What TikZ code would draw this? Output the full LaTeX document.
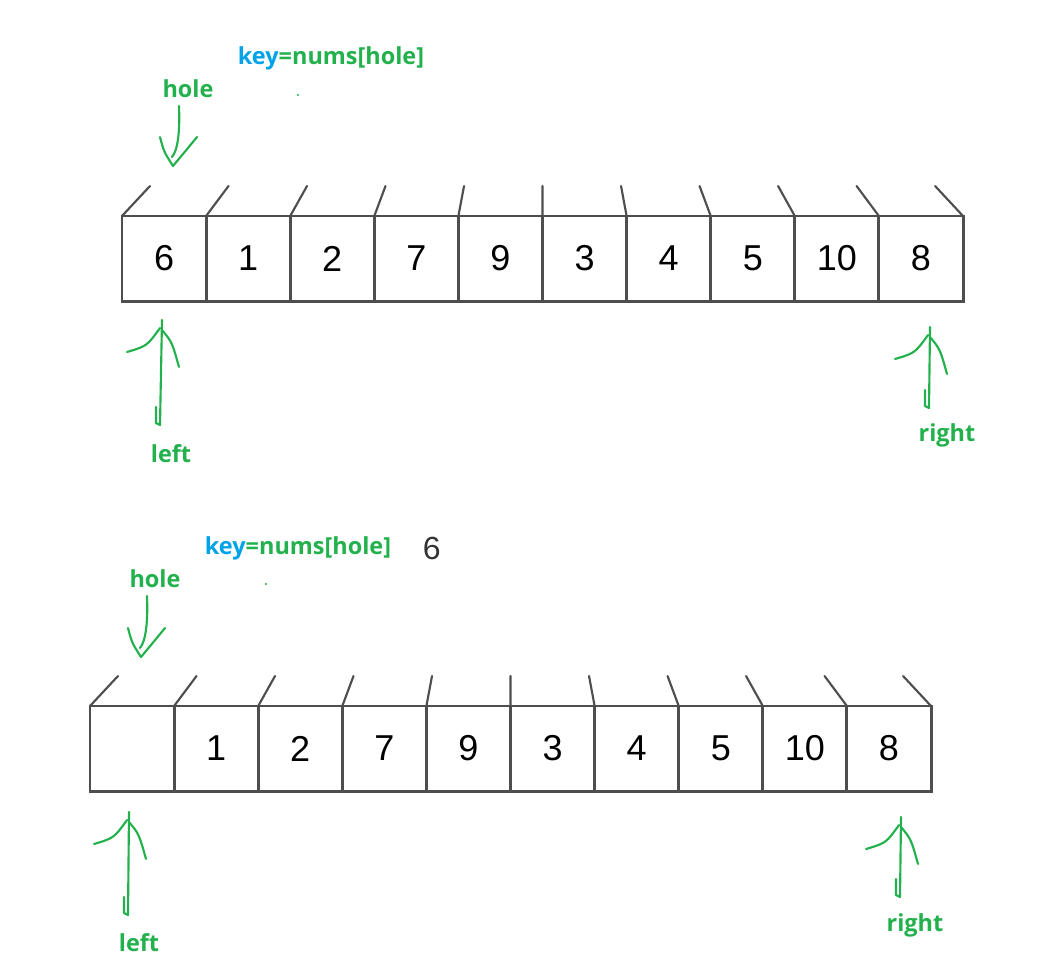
\documentclass[tikz,border=0pt]{standalone}
\usepackage{fontspec}
\setmainfont{Liberation Sans}
\newfontfamily\labelfont{Open Sans}
\usetikzlibrary{positioning,calc}
\definecolor{holegreen}{RGB}{34,177,76}
\definecolor{keyblue}{RGB}{0,162,232}
\definecolor{boxgray}{RGB}{78,78,78}

\tikzset{
  cell/.style={draw=boxgray, line width=2.2pt, minimum width=63.1pt, minimum height=63.8pt,
    inner sep=0pt, font=\fontsize{27}{27}\selectfont},
  slant/.style={boxgray, line width=1.6pt, line cap=round},
  lbl/.style={holegreen, font=\labelfont\fontsize{17.6}{17.6}\selectfont\bfseries, inner sep=1pt},
  pen/.style={holegreen, line width=1.6pt, line cap=round, line join=round}
}

% hand drawn arrows: tail, tip
\newcommand{\handdown}[2]{
  \draw[pen] (#1) .. controls ($(#1)+(1,25)$) and ($(#2)+(5,-16)$) .. ($(#2)+(-1,-9)$);
  \draw[pen] ($(#2)+(-13,-29)$) .. controls ($(#2)+(-9,-14)$) .. (#2)
    .. controls ($(#2)+(10,-12)$) .. ($(#2)+(24,-29)$);
}
\newcommand{\handup}[2]{
  \draw[pen] ($(#1)+(-4,-18)$) -- ($(#1)+(-4,-2)$) -- (#1) -- (#2);
  \draw[pen] ($(#2)+(-35,32)$) .. controls ($(#2)+(-15,26)$) .. ($(#2)+(-2,8)$);
  \draw[pen] ($(#2)+(0,10)$) .. controls ($(#2)+(10,22)$) .. ($(#2)+(17,47)$);
}

\begin{document}
\begin{tikzpicture}[x=0.75pt,y=-0.75pt]
  \useasboundingbox (0,0) rectangle (1062,975);

  % first row
  \foreach \v [count=\i] in {6,1,2,7,9,3,4,5,10,8}
    \node[cell] (top\i) at ({122+84.1*(\i-0.5)},258.5) {\v};
  \foreach \i in {0,...,10}
    \draw[slant] ({122+84.1*\i},216) -- ({122+84.1*\i+(421-84.1*\i)*0.0665},186);

  \node[lbl] (key1) at (331,58) {\textcolor{keyblue}{key}=nums[hole]};
  \fill[holegreen] (298,95) circle (0.9pt);
  \node[lbl] (hole1) at (188,89) {hole};
  \node[lbl] (left1) at (171,454) {left};
  \node[lbl] (right1) at (947,435) {right};

  \coordinate (hole1tail) at (179,106);
  \coordinate (hole1tip) at (173,166);
  \coordinate (left1tail) at (160,425);
  \coordinate (left1tip) at (162,320);
  \coordinate (right1tail) at (929,408);
  \coordinate (right1tip) at (930,327);
  \handdown{hole1tail}{hole1tip}
  \handup{left1tail}{left1tip}
  \handup{right1tail}{right1tip}

  % second row, key taken out of the hole
  \begin{scope}[shift={(-32,490)}]
    \foreach \v [count=\i] in {{},1,2,7,9,3,4,5,10,8}
      \node[cell] (bot\i) at ({122+84.1*(\i-0.5)},258.5) {\v};
    \foreach \i in {0,...,10}
      \draw[slant] ({122+84.1*\i},216) -- ({122+84.1*\i+(421-84.1*\i)*0.0665},186);
  \end{scope}

  \node[lbl] (key2) at (298,548) {\textcolor{keyblue}{key}=nums[hole]};
  \node[font=\fontsize{24}{24}\selectfont, text=black!80, right=19pt of key2] (keyval) {6};
  \fill[holegreen] (266,584) circle (0.9pt);
  \node[lbl] (hole2) at (155,579) {hole};
  \node[lbl] (left2) at (139,943) {left};
  \node[lbl] (right2) at (915,925) {right};

  \coordinate (hole2tail) at (147,596);
  \coordinate (hole2tip) at (141,657);
  \coordinate (left2tail) at (128,915);
  \coordinate (left2tip) at (129,812);
  \coordinate (right2tail) at (900,897);
  \coordinate (right2tip) at (901,817);
  \handdown{hole2tail}{hole2tip}
  \handup{left2tail}{left2tip}
  \handup{right2tail}{right2tip}
\end{tikzpicture}
\end{document}
